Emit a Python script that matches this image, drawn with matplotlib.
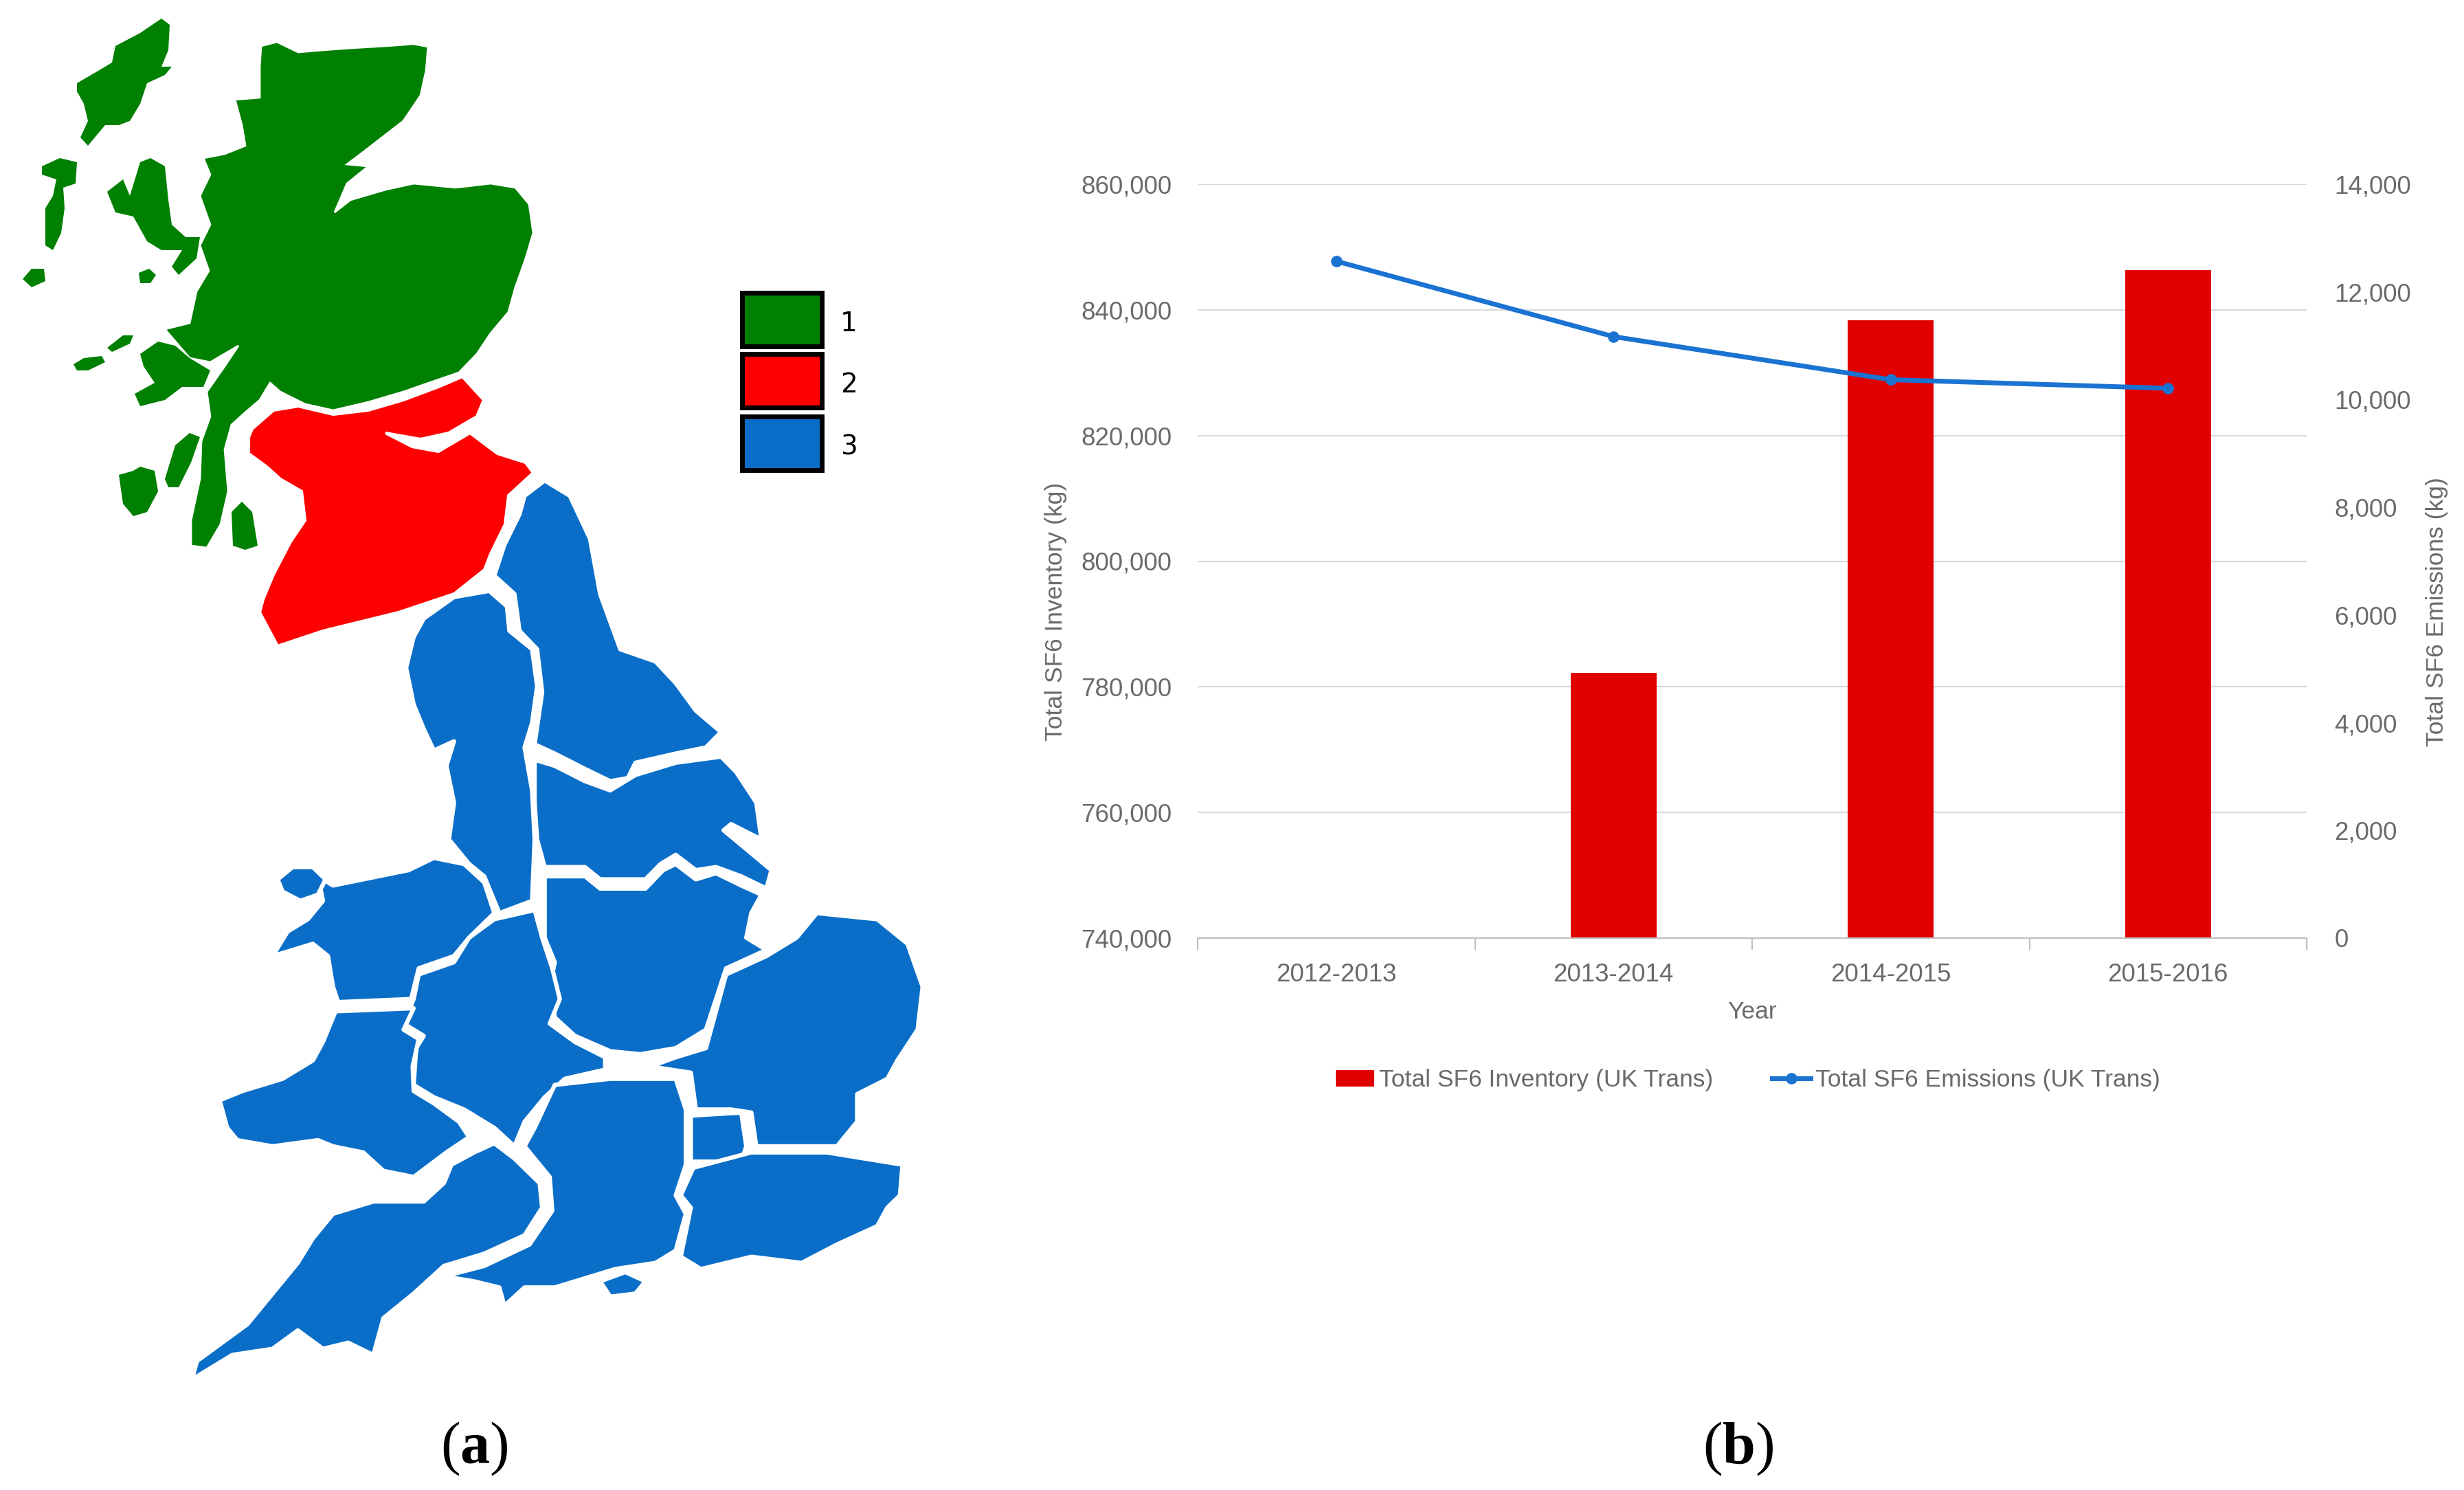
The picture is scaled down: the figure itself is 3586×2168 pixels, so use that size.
import numpy as np
import matplotlib
matplotlib.use("Agg")
import matplotlib.pyplot as plt
from matplotlib.patches import Polygon, Rectangle

plt.rcParams['font.family'] = ['Liberation Sans', 'DejaVu Sans']
plt.rcParams['mathtext.fontset'] = 'custom'
plt.rcParams['mathtext.rm'] = 'Liberation Serif'
plt.rcParams['mathtext.bf'] = 'Liberation Serif:bold'

# ---- chart data (b) ----
years = ['2012-2013', '2013-2014', '2014-2015', '2015-2016']
inventory_kg = [np.nan, 782200, 838300, 846300]
emissions_kg = [12570, 11170, 10370, 10210]
inv_label = 'Total SF6 Inventory (UK Trans)'
emi_label = 'Total SF6 Emissions (UK Trans)'

# ---- map legend (a) ----
zone_names = ['1', '2', '3']
zone_colors = ['#008000', '#FF0000', '#0A6EC8']

W, H = 3586, 2168
GREY = '#6A6A6A'

# ---- map outlines, image pixel coords ----
scot_main = [(380,67),(403,61),(434,76),(469,73),(510,70),(561,67),(602,64),(623,68),(620,103),
             (612,139),(587,176),(556,200),(525,224),(505,239),(536,242),(505,267),(487,309),
             (510,291),(561,276),(602,267),(663,273),(714,267),(750,273),(770,297),(776,339),
             (765,376),(750,418),(740,454),(714,485),(694,515),(668,542),(633,554),(587,570),
             (536,585),(485,597),(444,588),(408,570),(393,557),(378,582),(357,600),(337,618),
             (327,654),(332,715),(321,763),(301,797),(278,794),(278,757),(291,697),(293,642),
             (306,606),(301,570),(327,533),(347,503),(306,527),(276,521),(240,479),(276,470),
             (286,424),(304,394),(291,357),(306,327),(291,285),(306,254),(296,230),(327,224),
             (357,212),(352,182),(342,145),(378,142),(378,97)]
scot_islands = [
    [(112,121),(143,103),(163,91),(168,67),(204,48),(235,27),(247,36),(245,73),(235,97),(250,97),
     (240,109),(214,121),(204,151),(189,176),(173,182),(153,182),(143,194),(128,212),(117,200),
     (128,176),(122,151),(112,133)],
    [(156,279),(179,261),(189,285),(204,236),(219,230),(240,242),(245,291),(250,327),(270,345),
     (291,345),(286,376),(260,400),(250,388),(265,364),(235,364),(214,351),(194,315),(168,309)],
    [(61,242),(87,230),(112,236),(110,267),(92,273),(94,303),(89,339),(77,364),(66,357),(66,303),
     (77,285),(82,261),(61,254)],
    [(33,406),(46,391),(64,391),(66,409),(46,418)],
    [(202,397),(217,391),(227,400),(219,412),(204,412)],
    [(107,530),(122,521),(148,518),(153,527),(128,539),(112,539)],
    [(156,506),(179,488),(194,488),(189,500),(163,512)],
    [(204,515),(230,497),(255,503),(276,521),(306,539),(296,563),(265,563),(240,582),(204,591),
     (196,573),(225,557),(209,533)],
    [(240,697),(255,648),(276,630),(291,636),(278,673),(260,709),(245,709)],
    [(173,691),(194,685),(204,679),(225,685),(230,715),(214,745),(194,751),(179,733)],
    [(337,745),(352,730),(367,745),(375,794),(357,800),(339,794)],
]
south_scot = [(367,624),(398,597),(434,591),(485,603),(536,597),(587,582),(638,563),(673,548),
              (704,582),(694,606),(653,630),(612,639),(561,630),(600,650),(638,657),(684,630),
              (724,660),(765,673),(776,688),(740,721),(735,763),(714,806),(705,829),(661,864),
              (580,891),(470,918),(404,940),(378,891),(383,872),(398,836),(423,788),(444,757),
              (439,715),(408,697),(388,679),(362,660),(362,636)]

# England and Wales regions, traced on a crop (x0=250, y0=650, sx=0.7334, sy=0.8929)
eng_regions = [
    [(740,55),(790,80),(830,150),(850,240),(890,330),(960,350),(1000,385),(1040,430),(1090,465),
     (1060,490),(1000,500),(920,515),(905,540),(870,545),(820,525),(760,500),(720,485),(735,400),
     (725,330),(690,300),(680,240),(640,210),(660,160),(690,110),(700,80)],
    [(500,280),(560,245),(630,235),(665,260),(670,300),(715,330),(725,390),(715,450),(700,490),
     (715,560),(720,640),(715,740),(650,760),(620,700),(590,680),(550,640),(560,580),(545,520),
     (560,480),(520,495),(500,460),(480,420),(465,360),(480,310)],
    [(720,510),(760,520),(820,545),(870,560),(920,535),(1000,515),(1090,505),(1120,530),
     (1160,580),(1170,640),(1110,615),(1095,625),(1190,690),(1180,720),(1130,700),(1080,685),
     (1040,690),(1000,665),(970,680),(940,705),(850,705),(820,685),(740,685),(725,640),(720,580)],
    [(740,700),(820,700),(850,720),(940,720),(975,690),(1000,680),(1040,705),(1080,695),
     (1130,715),(1170,730),(1150,760),(1140,800),(1180,820),(1100,850),(1080,900),(1060,950),
     (1000,980),(930,990),(870,985),(800,960),(760,930),(750,880),(760,840),(740,800),(740,750)],
    [(490,860),(560,840),(590,800),(640,770),(720,755),(735,800),(755,850),(770,900),(750,940),
     (800,970),(860,995),(860,1015),(780,1030),(740,1060),(700,1100),(680,1140),(640,1110),
     (580,1080),(520,1060),(480,1040),(485,980),(500,960),(460,940),(480,900)],
    [(290,700),(320,715),(380,705),(470,690),(520,670),(580,680),(620,710),(640,760),(590,800),
     (560,830),(490,850),(475,900),(330,905),(320,880),(310,830),(280,810),(200,830),(230,790),
     (270,770),(300,740)],
    [(210,705),(240,685),(280,685),(305,705),(290,730),(255,740),(220,725)],
    [(325,920),(480,915),(460,950),(490,965),(478,1010),(480,1050),(520,1070),(570,1100),
     (590,1125),(545,1150),(480,1190),(420,1180),(380,1150),(320,1140),(290,1130),(200,1140),
     (130,1130),(110,1110),(95,1065),(140,1050),(220,1030),(280,1000),(300,970)],
    [(1100,860),(1180,830),(1240,800),(1280,760),(1400,770),(1460,810),(1490,880),(1480,950),
     (1440,1000),(1420,1030),(1360,1055),(1360,1100),(1320,1140),(1160,1140),(1150,1085),
     (1110,1080),(1040,1080),(1030,1020),(950,1010),(1000,995),(1060,980),(1080,920)],
    [(1030,1090),(1130,1085),(1140,1140),(1130,1165),(1030,1165)],
    [(1035,1175),(1150,1150),(1300,1150),(1450,1170),(1445,1220),(1420,1240),(1400,1270),
     (1320,1300),(1250,1330),(1150,1320),(1050,1340),(1010,1320),(1020,1280),(1030,1240),(1010,1220)],
    [(760,1040),(870,1030),(1000,1030),(1020,1080),(1020,1170),(1000,1220),(1020,1250),(1000,1310),
     (960,1330),(880,1340),(800,1360),(760,1370),(700,1370),(660,1400),(650,1370),(600,1360),
     (540,1352),(620,1335),(710,1300),(755,1245),(750,1190),(700,1140),(720,1110)],
    [(555,1170),(600,1150),(640,1135),(680,1160),(730,1200),(735,1240),(700,1285),(620,1315),
     (540,1335),(480,1380),(420,1420),(400,1480),(350,1460),(300,1470),(250,1440),(200,1470),
     (120,1480),(40,1520),(50,1490),(150,1430),(200,1380),(250,1330),(280,1290),(320,1250),
     (400,1230),(500,1230),(540,1200)],
    [(850,1360),(900,1345),(940,1360),(920,1380),(870,1385)],
]


def from_crop(pts, x0=250, y0=650, sx=0.7334, sy=0.8929):
    return [(x0 + x * sx, y0 + y * sy) for x, y in pts]


fig = plt.figure(figsize=(W / 100, H / 100), dpi=100)

# ---------- (a) map ----------
mp = fig.add_axes([0, 0, 1, 1], zorder=0)
mp.set_xlim(0, W)
mp.set_ylim(H, 0)
mp.axis('off')

mp.add_patch(Polygon(scot_main, closed=True, fc=zone_colors[0], ec='white', lw=2))
for isl in scot_islands:
    mp.add_patch(Polygon(isl, closed=True, fc=zone_colors[0], ec='none'))
mp.add_patch(Polygon(south_scot, closed=True, fc=zone_colors[1], ec='white', lw=3))
for reg in eng_regions:
    mp.add_patch(Polygon(from_crop(reg), closed=True, fc=zone_colors[2], ec='white',
                         lw=4.5, joinstyle='round'))

box_tops = [426, 515, 606]
for name, col, top in zip(zone_names, zone_colors, box_tops):
    mp.add_patch(Rectangle((1080, top), 116, 78, fc=col, ec='black', lw=5))
    mp.text(1235, top + 45, name, fontsize=28, family='DejaVu Sans',
            ha='center', va='center', color='black')

fig.text(690 / W, 1 - 2108 / H, r'($\mathbf{a}$)', fontsize=62, family='Liberation Serif',
         ha='center', va='center')
fig.text(2530 / W, 1 - 2108 / H, r'($\mathbf{b}$)', fontsize=62, family='Liberation Serif',
         ha='center', va='center')

# ---------- (b) chart ----------
L, R, T, B = 1743, 3357, 268, 1365
ax = fig.add_axes([L / W, 1 - B / H, (R - L) / W, (B - T) / H], zorder=1)
ax.patch.set_alpha(0)
x = np.arange(len(years))

ax.bar(x, inventory_kg, width=0.31, color='#E00000', label=inv_label, zorder=2)
ax.set_ylim(740000, 860000)
ax.set_yticks(np.arange(740000, 860001, 20000))
ax.yaxis.set_major_formatter(matplotlib.ticker.FuncFormatter(lambda v, p: f'{v:,.0f}'))
ax.grid(axis='y', color='#D9D9D9', lw=1.6, zorder=0)
ax.set_axisbelow(True)
ax.set_xlim(-0.5, len(years) - 0.5)
ax.set_xticks(x)
ax.set_xticklabels(years)
ax.set_xticks(np.arange(-0.5, len(years), 1.0), minor=True)
ax.tick_params(axis='x', which='major', length=0, pad=26, labelsize=26.5, labelcolor=GREY)
ax.tick_params(axis='x', which='minor', length=12, width=1.6, color='#BFBFBF', direction='out')
ax.tick_params(axis='y', length=0, pad=27, labelsize=26.5, labelcolor=GREY)
for s in ['top', 'right', 'left']:
    ax.spines[s].set_visible(False)
ax.spines['bottom'].set_color('#BFBFBF')
ax.spines['bottom'].set_linewidth(1.6)
ax.set_ylabel('Total SF6 Inventory (kg)', fontsize=25.5, color=GREY)
ax.yaxis.set_label_coords(-0.118, 0.433)
ax.set_xlabel('Year', fontsize=25.5, color=GREY)
ax.xaxis.set_label_coords(0.5, -0.083)

ax2 = ax.twinx()
ax2.plot(x, emissions_kg, color='#1A73D1', lw=5, marker='o', markersize=11, label=emi_label,
         zorder=3)
ax2.set_ylim(0, 14000)
ax2.set_yticks(np.arange(0, 14001, 2000))
ax2.yaxis.set_major_formatter(matplotlib.ticker.FuncFormatter(lambda v, p: f'{v:,.0f}'))
ax2.tick_params(axis='y', length=0, pad=29, labelsize=26.5, labelcolor=GREY)
for s in ax2.spines.values():
    s.set_visible(False)
ax2.set_ylabel('Total SF6 Emissions (kg)', fontsize=25.5, color=GREY)
ax2.yaxis.set_label_coords(1.107, 0.433)

h1, l1 = ax.get_legend_handles_labels()
h2, l2 = ax2.get_legend_handles_labels()
ax.legend(h1 + h2, l1 + l2, loc='center', ncol=2, frameon=False,
          bbox_to_anchor=(2544 / W, 1 - 1572 / H), bbox_transform=fig.transFigure,
          fontsize=25.5, labelcolor=GREY, handlelength=1.6, handleheight=0.65,
          handletextpad=0.2, columnspacing=2.4)

fig.savefig('out.png', dpi=100)
